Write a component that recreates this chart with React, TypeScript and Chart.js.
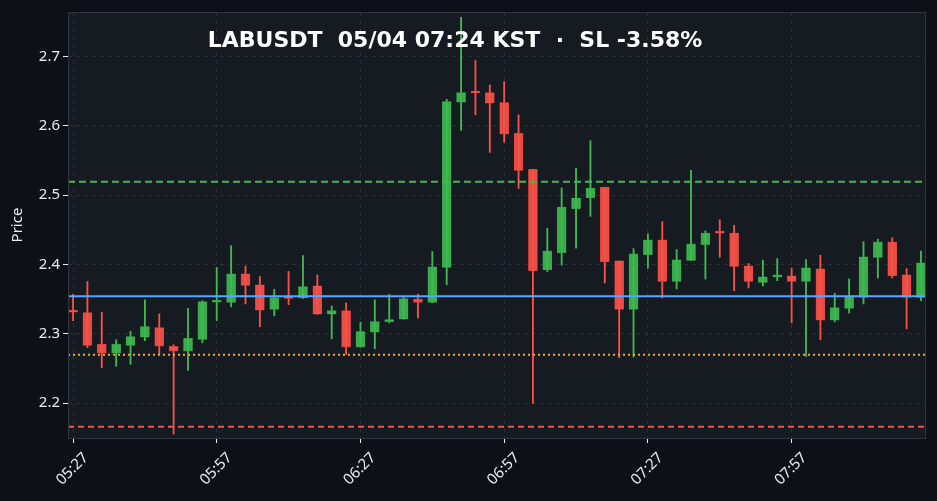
import React, { useEffect, useRef } from "react";
import { Chart, registerables } from "chart.js";

Chart.register(...registerables);

const startLabels = ["05:27", "05:57", "06:27", "06:57", "07:27", "07:57"];
const tickIndexes = [0, 10, 20, 30, 40, 50];

const opens = [
  2.332, 2.3306, 2.2847, 2.2722, 2.2832, 2.2951, 2.309, 2.2818, 2.275, 2.2918,
  2.3455, 2.3453, 2.3865, 2.3707, 2.3353, 2.352, 2.3516, 2.3693, 2.3281, 2.3334,
  2.2808, 2.3023, 2.3176, 2.321, 2.3502, 2.3453, 2.3956, 2.6337, 2.6476, 2.6476,
  2.6333, 2.5888, 2.5372, 2.3923, 2.4166, 2.4802, 2.496, 2.5113, 2.4052, 2.3353,
  2.4142, 2.4353, 2.3755, 2.4056, 2.4286, 2.4453, 2.4453, 2.398, 2.374, 2.382,
  2.3836, 2.3755, 2.3937, 2.3195, 2.3367, 2.3525, 2.4099, 2.4324, 2.3851, 2.3525,
];
const closes = [
  2.331, 2.2832, 2.2722, 2.2847, 2.2961, 2.3105, 2.2822, 2.275, 2.2933, 2.3463,
  2.3465, 2.3865, 2.3697, 2.3339, 2.3521, 2.351, 2.3679, 2.3281, 2.3334, 2.2808,
  2.3033, 2.3176, 2.319, 2.3506, 2.3453, 2.3966, 2.6347, 2.6476, 2.647, 2.6323,
  2.5878, 2.5353, 2.3908, 2.4195, 2.4826, 2.4956, 2.5099, 2.4037, 2.3353, 2.4152,
  2.4353, 2.3755, 2.4066, 2.4296, 2.4453, 2.4449, 2.397, 2.3755, 2.3822, 2.3826,
  2.3755, 2.3951, 2.3195, 2.3377, 2.3545, 2.4109, 2.4324, 2.3836, 2.3525, 2.4023,
];
const highs = [
  2.357, 2.3755, 2.331, 2.2914, 2.3037, 2.3488, 2.3287, 2.2842, 2.3367, 2.3478,
  2.3956, 2.4271, 2.3976, 2.3826, 2.364, 2.3898, 2.4128, 2.3846, 2.34, 2.3445,
  2.3167, 2.3488, 2.357, 2.3525, 2.3574, 2.4185, 2.638, 2.7562, 2.694, 2.6587,
  2.6634, 2.6156, 2.5372, 2.4521, 2.5103, 2.539, 2.5783, 2.5113, 2.4052, 2.4228,
  2.4443, 2.4616, 2.4214, 2.5357, 2.4482, 2.4644, 2.4564, 2.4013, 2.4062, 2.4085,
  2.3947, 2.407, 2.4133, 2.3582, 2.3789, 2.4329, 2.4363, 2.4386, 2.3941, 2.4191,
];
const lows = [
  2.319, 2.28, 2.2512, 2.2531, 2.256, 2.29, 2.27, 2.1555, 2.2473, 2.287,
  2.319, 2.3387, 2.343, 2.31, 2.3258, 2.342, 2.351, 2.328, 2.2928, 2.2703,
  2.2808, 2.2785, 2.3158, 2.321, 2.323, 2.3445, 2.3707, 2.5931, 2.6156, 2.5615,
  2.5759, 2.5095, 2.1996, 2.3898, 2.399, 2.4234, 2.4693, 2.3732, 2.2656, 2.2664,
  2.3947, 2.3516, 2.3646, 2.4056, 2.3789, 2.4105, 2.3621, 2.366, 2.3689, 2.3765,
  2.3158, 2.2674, 2.2914, 2.3172, 2.3301, 2.343, 2.3803, 2.3803, 2.3072, 2.3478,
];

const entryPrice = 2.354;
const takeProfit = 2.519;
const stopLoss = 2.2697;
const liquidation = 2.166;

const yMin = 2.1498;
const yMax = 2.7638;
const xMin = -0.35;
const xMax = 59.35;

const titleText = "LABUSDT  05/04 07:24 KST  ·  SL -3.58%";

const GREEN = "rgba(63,185,80,0.92)";
const GREEN_EDGE = "#2f9a40";
const RED = "rgba(248,81,73,0.92)";
const RED_EDGE = "#d23a34";

export default function App() {
  const ref = useRef<HTMLCanvasElement | null>(null);

  useEffect(() => {
    document.body.style.margin = "0";
    document.body.style.background = "#0d1117";
    const canvas = ref.current;
    if (!canvas) return;
    const up = opens.map((o, i) => closes[i] >= o);
    const idx = opens.map((_, i) => i);

    const hline = (y: number) => [
      { x: xMin, y },
      { x: xMax, y },
    ];

    const bgPlugin = {
      id: "bgPlugin",
      beforeDraw(chart: any) {
        const { ctx, chartArea: a } = chart;
        ctx.save();
        ctx.fillStyle = "#0d1117";
        ctx.fillRect(0, 0, chart.width, chart.height);
        ctx.fillStyle = "#161b22";
        ctx.fillRect(a.left, a.top, a.right - a.left, a.bottom - a.top);
        ctx.restore();
      },
      afterDraw(chart: any) {
        const { ctx, chartArea: a } = chart;
        ctx.save();
        ctx.strokeStyle = "#30363d";
        ctx.lineWidth = 1;
        ctx.strokeRect(a.left + 0.5, a.top + 0.5, a.right - a.left - 1, a.bottom - a.top);
        ctx.fillStyle = "#ffffff";
        ctx.font = "bold 22px 'DejaVu Sans'";
        ctx.textAlign = "center";
        ctx.textBaseline = "middle";
        ctx.fillText(titleText, 455, 41);
        ctx.restore();
      },
    };

    const chart = new Chart(canvas, {
      type: "bar",
      data: {
        datasets: [
          {
            type: "line",
            data: hline(entryPrice),
            borderColor: "#58a6ff",
            borderWidth: 2,
            pointRadius: 0,
            order: 0,
          } as any,
          {
            type: "line",
            data: hline(takeProfit),
            borderColor: "#3fb950",
            borderWidth: 2,
            borderDash: [7, 4],
            pointRadius: 0,
            order: 0,
          } as any,
          {
            type: "line",
            data: hline(stopLoss),
            borderColor: "#f0a832",
            borderWidth: 2,
            borderDash: [2, 3],
            pointRadius: 0,
            order: 0,
          } as any,
          {
            type: "line",
            data: hline(liquidation),
            borderColor: "#f85149",
            borderWidth: 2,
            borderDash: [6, 4],
            pointRadius: 0,
            order: 0,
          } as any,
          {
            type: "bar",
            data: idx.map((i) => ({ x: i, y: [lows[i], highs[i]] })),
            backgroundColor: up.map((u) => (u ? "#3fb950" : "#f85149")),
            barThickness: 1.2,
            grouped: false,
            order: 2,
          } as any,
          {
            type: "bar",
            data: idx.map((i) => ({ x: i, y: [opens[i], closes[i]] })),
            backgroundColor: up.map((u) => (u ? GREEN : RED)),
            borderColor: up.map((u) => (u ? GREEN_EDGE : RED_EDGE)),
            borderWidth: 0.6,
            borderSkipped: false,
            barThickness: 9,
            minBarLength: 2,
            grouped: false,
            order: 1,
          } as any,
        ],
      },
      options: {
        animation: false,
        responsive: false,
        maintainAspectRatio: false,
        layout: { padding: { left: 0, right: 11, top: 10, bottom: 0 } },
        plugins: {
          legend: { display: false },
          tooltip: { enabled: false },
          title: { display: false },
        },
        scales: {
          x: {
            type: "linear",
            min: xMin,
            max: xMax,
            offset: false,
            afterBuildTicks: (scale: any) => {
              scale.ticks = tickIndexes.map((v) => ({ value: v }));
            },
            afterFit: (scale: any) => {
              scale.height = 63;
            },
            ticks: {
              color: "#e6edf3",
              font: { family: "'Noto Sans'", size: 15 },
              maxRotation: 45,
              minRotation: 45,
              autoSkip: false,
              padding: 6,
              labelOffset: 13,
              callback: (v: any) => {
                const k = tickIndexes.indexOf(Number(v));
                return k >= 0 ? startLabels[k] : "";
              },
            },
            grid: {
              offset: false,
              color: "#2a3038",
              tickColor: "#e6edf3",
              tickLength: 5,
              lineWidth: 1,
            },
            border: { display: false, dash: [4, 4] },
          },
          y: {
            type: "linear",
            min: yMin,
            max: yMax,
            afterFit: (scale: any) => {
              scale.width = 68;
            },
            ticks: {
              stepSize: 0.1,
              includeBounds: false,
              color: "#e6edf3",
              font: { family: "'Noto Sans'", size: 15 },
              callback: (v: any) => Number(v).toFixed(1),
            },
            title: {
              display: true,
              text: "Price",
              color: "#e6edf3",
              font: { family: "'Noto Sans'", size: 15 },
              padding: { top: 9, bottom: 0 },
            },
            grid: {
              color: "#2a3038",
              tickColor: "#e6edf3",
              tickLength: 5,
              lineWidth: 1,
            },
            border: { display: false, dash: [4, 4] },
          },
        },
      } as any,
      plugins: [bgPlugin],
    });
    return () => chart.destroy();
  }, []);

  return (
    <div style={{ width: 937, height: 501, background: "#0d1117" }}>
      <canvas ref={ref} width={937} height={501} style={{ display: "block" }} />
    </div>
  );
}
